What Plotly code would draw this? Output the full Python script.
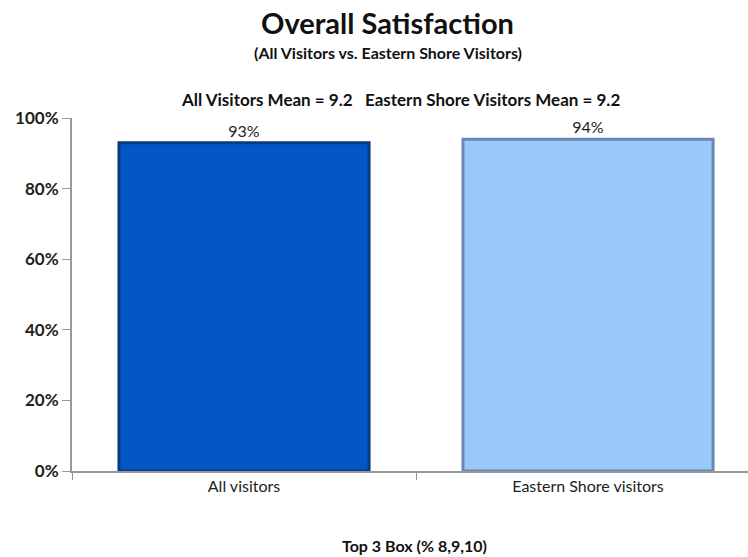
import plotly.graph_objects as go

categories = ["All visitors", "Eastern Shore visitors"]
values = [0.93, 0.94]
labels = ["93%", "94%"]
colors = ["#0456C6", "#99C9FB"]
edge_colors = ["#0B3A7E", "#6A88B2"]
y_ticks = [0, 0.2, 0.4, 0.6, 0.8, 1.0]
y_tick_labels = ["0%", "20%", "40%", "60%", "80%", "100%"]

font_family = "Lato, 'Open Sans', sans-serif"
W, H = 748, 557
ML, MR, MT, MB = 72, 0, 118, 86

fig = go.Figure()
fig.add_trace(go.Bar(
    x=categories,
    y=values,
    width=0.727,
    marker=dict(color=colors, line=dict(color=edge_colors, width=3)),
    text=labels,
    textposition="outside",
    textfont=dict(family=font_family, size=16, color="#222222"),
    cliponaxis=False,
    hoverinfo="skip",
))

def px_ann(text, xpx, ypx, size):
    return dict(text=text, x=(xpx - ML) / (W - ML - MR), y=(H - MB - ypx) / (H - MT - MB),
                xref="paper", yref="paper", xanchor="center", yanchor="middle",
                showarrow=False, font=dict(family=font_family, size=size, color="#111111"))

fig.update_layout(
    width=W, height=H,
    margin=dict(l=ML, r=MR, t=MT, b=MB),
    paper_bgcolor="white", plot_bgcolor="white",
    showlegend=False,
    font=dict(family=font_family, color="#222222"),
    annotations=[
        px_ann("<b>Overall Satisfaction</b>", 387, 22, 29),
        px_ann("<b>(All Visitors vs. Eastern Shore Visitors)</b>", 388, 53, 16),
        px_ann("<b>All Visitors Mean = 9.2   Eastern Shore Visitors Mean = 9.2</b>", 400, 99, 17),
        px_ann("<b>Top 3 Box (% 8,9,10)</b>", 414, 545, 16),
    ],
)

fig.update_xaxes(
    type="category",
    range=[-0.5, 1.465],
    showline=True, linecolor="#999999", linewidth=2,
    ticks="outside", tickson="boundaries", ticklen=7, tickcolor="#999999",
    tickfont=dict(size=16, color="#222222"),
    showgrid=False,
)
fig.update_yaxes(
    range=[0, 1],
    tickvals=y_ticks, ticktext=[f"<b>{t}</b>" for t in y_tick_labels],
    showline=True, linecolor="#999999", linewidth=2,
    ticks="outside", ticklen=8, tickcolor="#999999",
    tickfont=dict(size=17, color="#222222"),
    showgrid=False, zeroline=False,
)

fig.write_html("out.html",
               config={"displayModeBar": False},
               post_script="document.body.style.margin='0';document.body.style.padding='0';")
